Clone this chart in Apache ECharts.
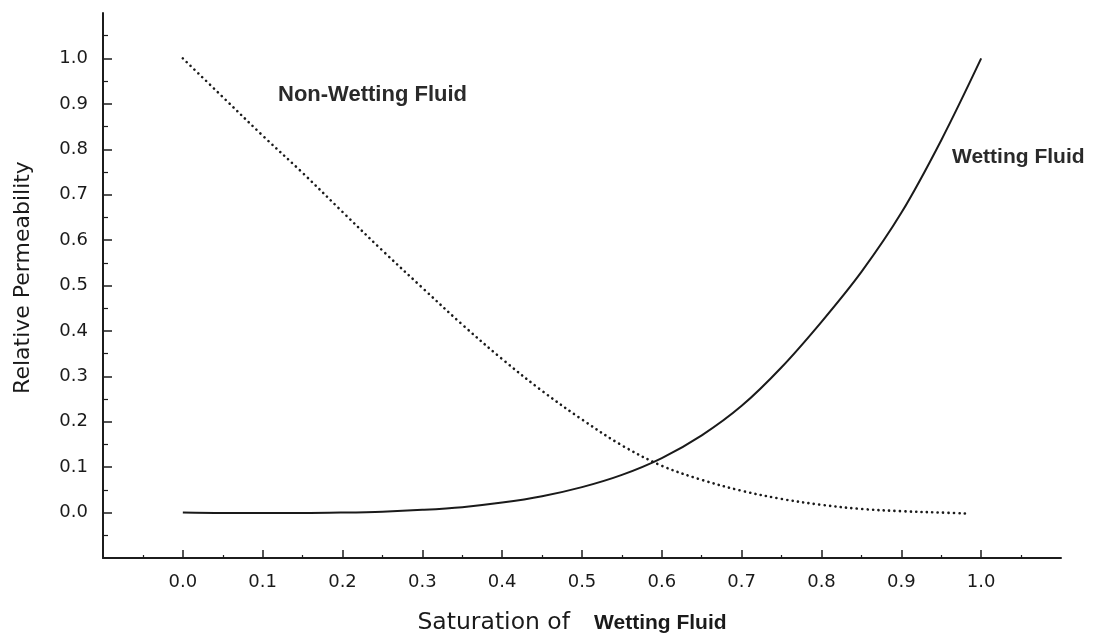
<!DOCTYPE html>
<html>
<head>
<meta charset="utf-8">
<title>Relative Permeability</title>
<script src="https://cdn.jsdelivr.net/npm/echarts@6/dist/echarts.min.js"></script>
<style>
  html, body { margin: 0; padding: 0; background: #fff; }
  #chart { width: 1097px; height: 633px; }
</style>
</head>
<body>
<div id="chart"></div>
<script>
// saturation of wetting fluid (x) and relative permeability
const wettingSat = [0.0, 0.05, 0.1, 0.15, 0.2, 0.25, 0.3, 0.35, 0.4, 0.45, 0.5, 0.55, 0.6, 0.65, 0.7, 0.75, 0.8, 0.85, 0.9, 0.95, 1.0]
const wettingKr = [0.0, -0.001, -0.001, -0.001, 0.0, 0.002, 0.006, 0.012, 0.022, 0.036, 0.056, 0.083, 0.12, 0.17, 0.235, 0.32, 0.42, 0.53, 0.66, 0.82, 1.0]

const nonWettingSat = [0.0, 0.05, 0.1, 0.15, 0.2, 0.25, 0.3, 0.35, 0.4, 0.45, 0.5, 0.55, 0.6, 0.65, 0.7, 0.75, 0.8, 0.85, 0.9, 0.95, 0.98]
const nonWettingKr = [1.0, 0.915, 0.83, 0.748, 0.662, 0.577, 0.495, 0.414, 0.338, 0.268, 0.205, 0.148, 0.103, 0.072, 0.048, 0.03, 0.017, 0.008, 0.003, 0.0, -0.002]

const tickValues = [0.0, 0.1, 0.2, 0.3, 0.4, 0.5, 0.6, 0.7, 0.8, 0.9, 1.0]

const axisColor = '#1c1c1c'
const textColor = '#1a1a1a'

const chart = echarts.init(document.getElementById('chart'))

function pairs(xs, ys) {
  return xs.map((x, i) => [x, ys[i]])
}

const option = {
  backgroundColor: '#ffffff',
  animation: false,
  grid: {
    left: 103,
    right: 36,
    top: 13,
    bottom: 75,
    containLabel: false,
    outerBoundsMode: 'none'
  },
  xAxis: {
    type: 'value',
    min: -0.1,
    max: 1.1,
    interval: 0.1,
    splitLine: { show: false },
    axisLine: { onZero: false, lineStyle: { color: axisColor, width: 2 } },
    axisTick: {
      inside: true,
      length: 8,
      customValues: tickValues,
      lineStyle: { color: axisColor, width: 1.5 }
    },
    minorTick: {
      show: true,
      splitNumber: 2,
      length: 3,
      lineStyle: { color: axisColor, width: 1.2 }
    },
    axisLabel: {
      customValues: tickValues,
      margin: 15,
      fontFamily: 'DejaVu Sans',
      fontSize: 18,
      color: textColor,
      formatter: v => v.toFixed(1)
    },
    name: '{a|Saturation of}{b|Wetting Fluid}',
    nameLocation: 'middle',
    nameGap: 53,
    nameTextStyle: {
      padding: [0, 20, 0, 0],
      rich: {
        a: { fontFamily: 'DejaVu Sans', fontSize: 23.5, color: textColor, padding: [0, 24, 0, 0] },
        b: { fontFamily: 'Liberation Sans', fontSize: 21, fontWeight: 'bold', color: textColor }
      }
    }
  },
  yAxis: {
    type: 'value',
    min: -0.1,
    max: 1.1,
    interval: 0.1,
    splitLine: { show: false },
    axisLine: { onZero: false, lineStyle: { color: axisColor, width: 2 } },
    axisTick: {
      inside: true,
      length: 9,
      customValues: tickValues,
      lineStyle: { color: axisColor, width: 1.5 }
    },
    minorTick: {
      show: true,
      splitNumber: 2,
      length: 5,
      lineStyle: { color: axisColor, width: 1.2 }
    },
    axisLabel: {
      customValues: tickValues,
      margin: 15,
      fontFamily: 'DejaVu Sans',
      fontSize: 18,
      color: textColor,
      formatter: v => v.toFixed(1)
    },
    name: 'Relative Permeability',
    nameLocation: 'middle',
    nameGap: 69,
    nameTextStyle: {
      fontFamily: 'DejaVu Sans',
      fontSize: 22,
      color: textColor,
      padding: [0, 0, 0, 16]
    }
  },
  graphic: [
    {
      type: 'text',
      left: 278,
      top: 84,
      style: {
        text: 'Non-Wetting Fluid',
        font: 'bold 22px "Liberation Sans"',
        fill: '#2a2a2a'
      }
    },
    {
      type: 'text',
      left: 952,
      top: 147,
      style: {
        text: 'Wetting Fluid',
        font: 'bold 21px "Liberation Sans"',
        fill: '#2a2a2a'
      }
    }
  ],
  series: [
    {
      name: 'Wetting Fluid',
      type: 'line',
      data: pairs(wettingSat, wettingKr),
      smooth: 0.35,
      showSymbol: false,
      lineStyle: { color: '#1a1a1a', width: 2 }
    },
    {
      name: 'Non-Wetting Fluid',
      type: 'line',
      data: pairs(nonWettingSat, nonWettingKr),
      smooth: 0.35,
      showSymbol: false,
      lineStyle: {
        color: '#1a1a1a',
        width: 2.6,
        type: [0.1, 5.3],
        cap: 'round'
      }
    }
  ]
}

chart.setOption(option)
</script>
</body>
</html>
